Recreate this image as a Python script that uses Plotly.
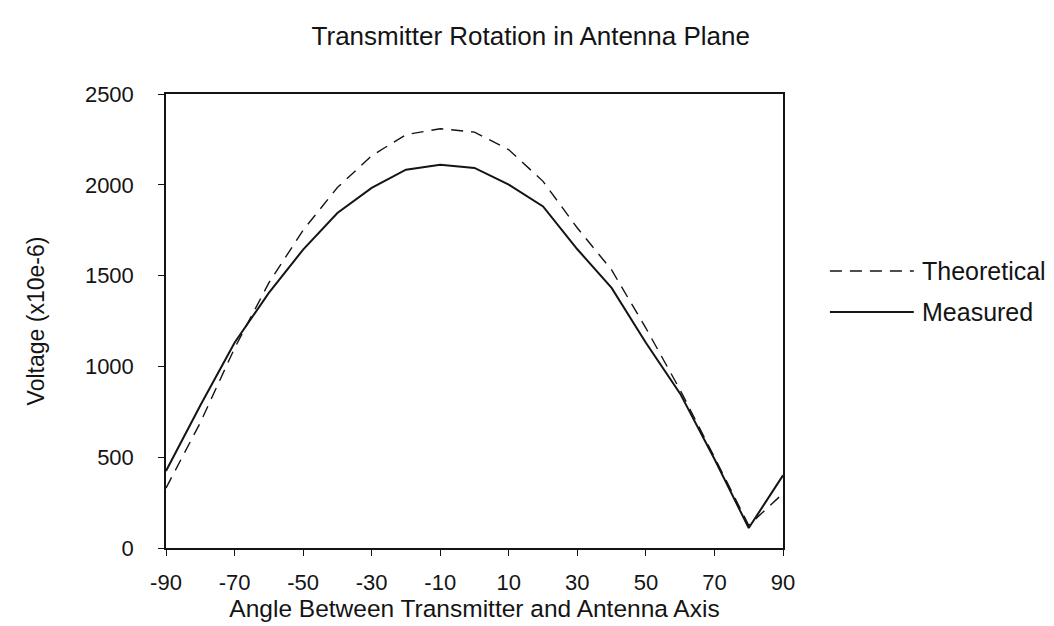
import plotly.graph_objects as go

angles = [-90, -80, -70, -60, -50, -40, -30, -20, -10, 0, 10, 20, 30, 40, 50, 60, 70, 80, 90]
theoretical = [330, 690, 1100, 1460, 1750, 1985, 2160, 2276, 2309, 2290, 2193, 2019, 1762, 1531, 1211, 870, 500, 125, 300]
measured = [424, 785, 1130, 1405, 1643, 1845, 1983, 2083, 2111, 2093, 2001, 1881, 1645, 1432, 1130, 850, 490, 110, 400]
x_ticks = [-90, -70, -50, -30, -10, 10, 30, 50, 70, 90]
x_tick_text = ["-90", "-70", "-50", "-30", "-10", "10", "30", "50", "70", "90"]
y_ticks = [0, 500, 1000, 1500, 2000, 2500]

FONT = "Liberation Sans, Arial, sans-serif"
INK = "#141414"
DASH = "12px,8px"

fig = go.Figure()
fig.add_trace(go.Scatter(x=angles, y=theoretical, mode="lines", name="Theoretical",
                         line=dict(color=INK, width=1.4, dash=DASH), showlegend=False))
fig.add_trace(go.Scatter(x=angles, y=measured, mode="lines", name="Measured",
                         line=dict(color=INK, width=2), showlegend=False))

# custom legend with long line samples like the original
legend_items = [("Theoretical", DASH, 1.4, 0.61), ("Measured", "solid", 2, 0.52)]
for name, dash, w, yy in legend_items:
    fig.add_shape(type="line", xref="paper", yref="paper", x0=1.076, x1=1.212, y0=yy, y1=yy,
                  line=dict(color=INK, width=w, dash=dash))
    fig.add_annotation(text=name, xref="paper", yref="paper", x=1.222, y=yy, xanchor="left",
                       yanchor="middle", showarrow=False, font=dict(family=FONT, size=25, color=INK))

fig.update_layout(
    width=1054, height=626,
    margin=dict(l=158, r=279, t=86, b=86),
    paper_bgcolor="white", plot_bgcolor="white",
    title=dict(text="Transmitter Rotation in Antenna Plane", x=0.496, xanchor="center",
               y=0.955, yanchor="middle", font=dict(family=FONT, size=26, color=INK)),
    font=dict(family=FONT, size=22, color=INK),
)
fig.update_xaxes(range=[-90, 90], tickvals=x_ticks, ticktext=x_tick_text, showgrid=False,
                 zeroline=False, showline=True, linecolor=INK, linewidth=1.5, mirror=True,
                 ticks="outside", ticklen=6, tickcolor=INK, ticklabelstandoff=8,
                 tickfont=dict(family=FONT, size=22, color=INK),
                 title=dict(text="Angle Between Transmitter and Antenna Axis", standoff=0,
                            font=dict(family=FONT, size=24.5, color=INK)))
fig.update_yaxes(range=[0, 2500], tickvals=y_ticks, showgrid=False, zeroline=False,
                 showline=True, linecolor=INK, linewidth=1.5, mirror=True,
                 ticks="outside", ticklen=6, tickcolor=INK, ticklabelstandoff=20,
                 tickfont=dict(family=FONT, size=22, color=INK),
                 title=dict(text="Voltage (x10e-6)", standoff=34,
                            font=dict(family=FONT, size=23, color=INK)))

fig.write_html("out.html")
